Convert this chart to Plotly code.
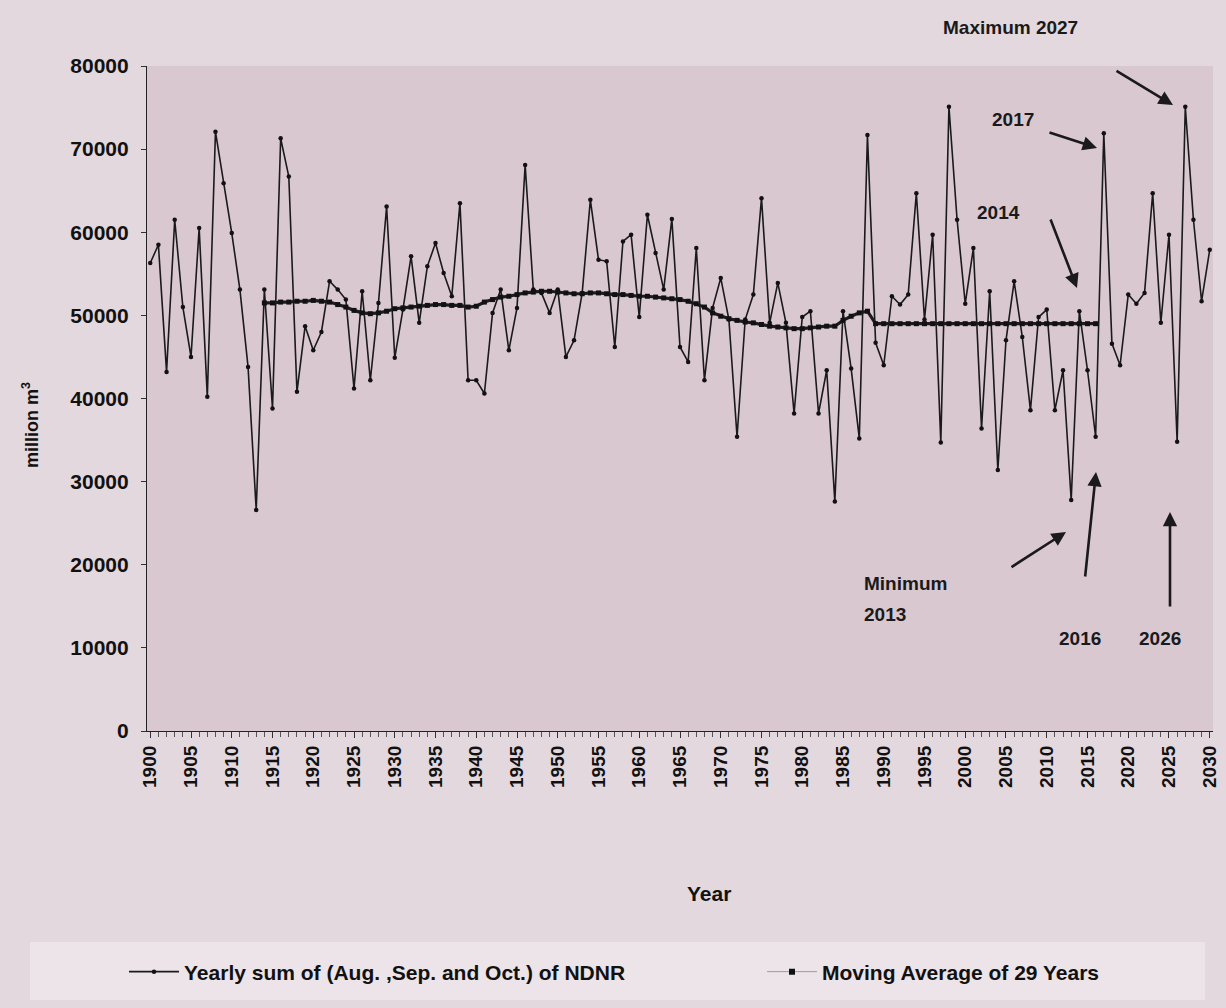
import plotly.graph_objects as go

years = list(range(1900, 2031))
yearly_sum = [
    56300, 58500, 43200, 61500, 51000, 45000, 60500, 40200, 72100, 65900,
    59900, 53100, 43800, 26600, 53100, 38800, 71300, 66700, 40800, 48700,
    45800, 48000, 54100, 53100, 51900, 41200, 52900, 42200, 51500, 63100,
    44900, 50700, 57100, 49100, 55900, 58700, 55100, 52300, 63500, 42200,
    42200, 40600, 50300, 53100, 45800, 50900, 68100, 53100, 52700, 50300,
    53100, 45000, 47000, 52700, 63900, 56700, 56500, 46200, 58900, 59700,
    49800, 62100, 57500, 53100, 61600, 46200, 44400, 58100, 42200, 50900,
    54500, 49500, 35400, 49500, 52500, 64100, 49100, 53900, 49100, 38200,
    49800, 50500, 38200, 43400, 27600, 50500, 43600, 35200, 71700, 46700,
    44000, 52300, 51300, 52500, 64700, 49500, 59700, 34700, 75100, 61500,
    51400, 58100, 36400, 52900, 31400, 47000, 54100, 47400, 38600, 49800,
    50700, 38600, 43400, 27800, 50500, 43400, 35400, 71900, 46600, 44000,
    52500, 51400, 52700, 64700, 49100, 59700, 34800, 75100, 61500, 51700,
    57900,
]

ma_years = list(range(1914, 2017))
moving_avg = [
    51500, 51500, 51600, 51600, 51700, 51700, 51800, 51700, 51600, 51300,
    51000, 50600, 50300, 50200, 50300, 50500, 50800, 50900, 51000, 51100,
    51200, 51300, 51300, 51200, 51200, 51000, 51100, 51600, 51900, 52200,
    52300, 52500, 52700, 52800, 52900, 52900, 52800, 52700, 52600, 52600,
    52700, 52700, 52600, 52500, 52500, 52400, 52300, 52300, 52200, 52100,
    52000, 51900, 51700, 51400, 51000, 50300, 49900, 49600, 49400, 49200,
    49100, 48900, 48700, 48600, 48500, 48400, 48400, 48500, 48600, 48700,
    48700, 49400, 49900, 50300, 50500,
    49000, 49000, 49000, 49000, 49000, 49000, 49000, 49000, 49000, 49000,
    49000, 49000, 49000, 49000, 49000, 49000, 49000, 49000, 49000, 49000,
    49000, 49000, 49000, 49000, 49000, 49000, 49000, 49000,
]

y_ticks = [0, 10000, 20000, 30000, 40000, 50000, 60000, 70000, 80000]
x_ticks = list(range(1900, 2031, 5))

FONT = "Liberation Sans"

fig = go.Figure()
fig.add_trace(go.Scatter(
    x=years, y=yearly_sum, mode="lines+markers",
    name="<b>Yearly sum of (Aug. ,Sep. and Oct.) of NDNR</b>",
    line=dict(color="#1a1a1a", width=1.6),
    marker=dict(color="#111111", size=4.5),
    legend="legend",
))
fig.add_trace(go.Scatter(
    x=ma_years, y=moving_avg, mode="lines+markers",
    name="Moving Average of 29 Years", showlegend=False,
    line=dict(color="#1c1c1c", width=3.2),
    marker=dict(color="#111111", size=5, symbol="square"),
))
# legend entry for the moving average (thin grey line with a dot)
fig.add_trace(go.Scatter(
    x=[None], y=[None], mode="lines+markers",
    name="<b>Moving Average of 29 Years</b>",
    line=dict(color="#9a9a9a", width=1),
    marker=dict(color="#111111", size=6, symbol="square"),
    legend="legend2",
))

W, H = 1226, 1008
L, R, T, B = 147, 13, 66, 277
PW, PH = W - L - R, H - T - B


def px(xp):
    return (xp - L) / PW


def py(yp):
    return (H - B - yp) / PH


fig.add_shape(type="rect", xref="paper", yref="paper",
              x0=px(30), x1=px(1205), y0=py(1000), y1=py(942),
              fillcolor="#ece4e8", line=dict(width=0), layer="below")

anns = []
anns.append(dict(text="<b>Year</b>", x=px(709), y=py(893), xref="paper", yref="paper",
                 showarrow=False, xanchor="center", yanchor="middle",
                 font=dict(size=21, family=FONT, color="#111")))
anns.append(dict(text="<b>million m<sup>3</sup></b>", x=px(30), y=py(425), xref="paper",
                 yref="paper", showarrow=False, textangle=-90,
                 xanchor="center", yanchor="middle",
                 font=dict(size=18, family=FONT, color="#111")))

labels = [
    ("<b>Maximum 2027</b>", 1010, 27, "center"),
    ("<b>2017</b>", 1013, 120, "center"),
    ("<b>2014</b>", 998, 212, "center"),
    ("<b>Minimum</b>", 862, 583, "left"),
    ("<b>2013</b>", 862, 614, "left"),
    ("<b>2016</b>", 1080, 638, "center"),
    ("<b>2026</b>", 1160, 638, "center"),
]
for t, x0, y0, al in labels:
    anns.append(dict(text=t, x=px(x0), y=py(y0), xref="paper", yref="paper",
                     showarrow=False, xanchor=al, yanchor="middle",
                     font=dict(size=19, family=FONT, color="#1a1a1a")))

# arrows: (head_x, head_y, tail_x, tail_y) in pixels
arrows = [
    (1173, 105, 1115, 70),
    (1097, 148, 1048, 132),
    (1077, 288, 1050, 218),
    (1066, 532, 1010, 568),
    (1096, 472, 1085, 578),
    (1170, 512, 1170, 608),
]
for hx, hy, tx, ty in arrows:
    anns.append(dict(text="", x=px(hx), y=py(hy), xref="paper", yref="paper",
                     showarrow=True, ax=tx - hx, ay=ty - hy, arrowhead=2,
                     arrowsize=1.1, arrowwidth=2.6, arrowcolor="#1a1a1a"))

legend_style = dict(
    orientation="h", xanchor="left", yanchor="middle",
    bgcolor="rgba(0,0,0,0)", font=dict(size=21, family=FONT, color="#111"),
    itemwidth=50,
)

fig.update_layout(
    width=W, height=H, autosize=False,
    margin=dict(l=L, r=R, t=T, b=B, autoexpand=False),
    paper_bgcolor="#e3d8de",
    plot_bgcolor="#d9c8d0",
    font=dict(family=FONT, color="#111"),
    annotations=anns,
    showlegend=True,
    legend=dict(x=px(124), y=py(972), **legend_style),
    legend2=dict(x=px(762), y=py(972), **legend_style),
)
fig.update_xaxes(
    range=[1899.6, 2030.4], tickmode="array", tickvals=x_ticks,
    ticktext=[f"<b>{v}</b>" for v in x_ticks], tickangle=-90,
    ticks="outside", ticklen=6, tickcolor="#333", tickwidth=1,
    minor=dict(dtick=1, ticks="outside", ticklen=5, tickcolor="#555"),
    showline=True, linecolor="#222", linewidth=1.2, showgrid=False,
    zeroline=False, tickfont=dict(size=19, family=FONT, color="#111"),
    automargin=False,
)
fig.update_yaxes(
    range=[0, 80000], tickmode="array", tickvals=y_ticks,
    ticktext=[f"<b>{v}</b>" for v in y_ticks],
    ticks="outside", ticklen=5, tickcolor="#333",
    showline=True, linecolor="#222", linewidth=1.2, showgrid=False,
    zeroline=False, tickfont=dict(size=21, family=FONT, color="#111"),
    ticklabelstandoff=8, automargin=False,
)

fig.write_html(
    "out.html",
    config={"displayModeBar": False, "responsive": False},
    post_script="document.body.style.margin='0px';document.body.style.overflow='hidden';",
)
